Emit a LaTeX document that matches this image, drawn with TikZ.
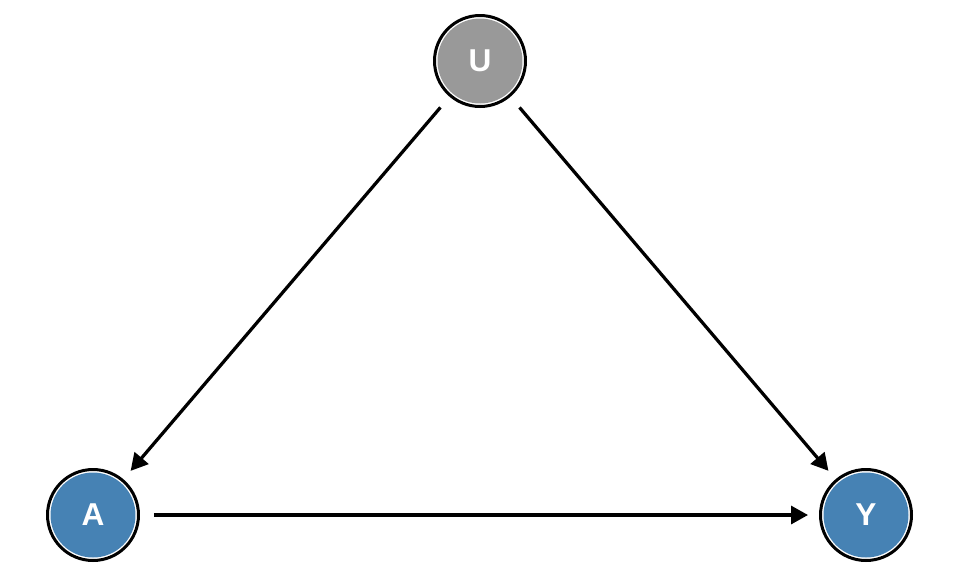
\documentclass[tikz,border=0pt]{standalone}
\usepackage{fontspec}
\setsansfont{Liberation Sans}
\usetikzlibrary{arrows.meta}

\definecolor{treatblue}{RGB}{70,130,180}
\definecolor{latentgray}{RGB}{153,153,153}

\tikzset{
    dagnode/.style={circle, draw=black, fill=white, line width=0.06cm,
        minimum size=1.82cm, inner sep=0pt, text=white,
        font=\sffamily\bfseries\fontsize{18}{21}\selectfont,
        path picture={\fill[#1] (path picture bounding box.center) circle (0.85cm);}},
    dagedge/.style={line width=0.065cm, -{Triangle[length=0.34cm,width=0.36cm]},
        shorten <=0.28cm, shorten >=0.22cm}
}

\begin{document}
\begin{tikzpicture}[x=0.02cm, y=-0.02cm]
        \useasboundingbox (0,0) rectangle (960,576);
        % nodes
        \node[dagnode=latentgray] (U) at (480,61) {U};
        \node[dagnode=treatblue] (A) at (93,515) {A};
        \node[dagnode=treatblue] (Y) at (866,515) {Y};
        % edges
        \draw[dagedge] (U) -- (A);
        \draw[dagedge] (U) -- (Y);
        \draw[dagedge] (A) -- (Y);
\end{tikzpicture}
\end{document}
